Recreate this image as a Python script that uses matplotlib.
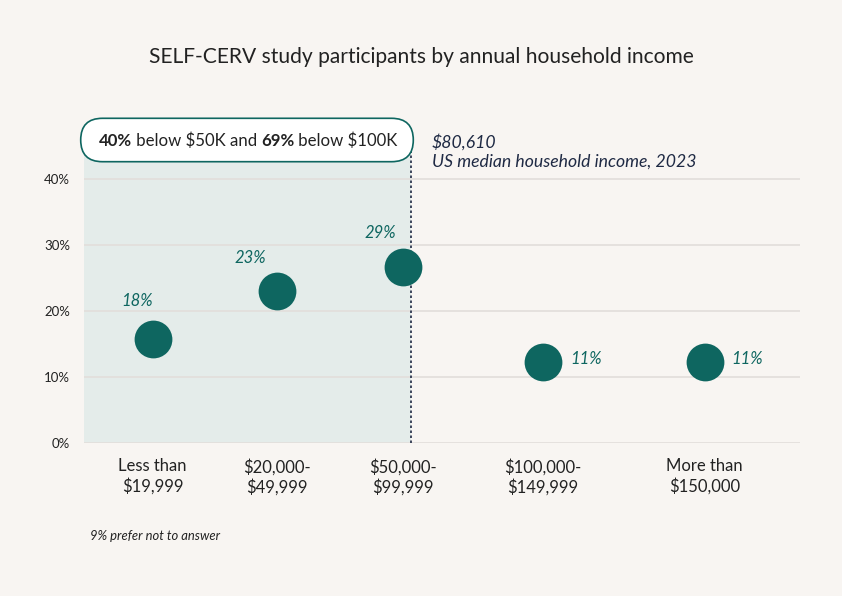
import matplotlib
matplotlib.use('Agg')
import matplotlib.pyplot as plt
from matplotlib.patches import FancyBboxPatch

plt.rcParams['font.family'] = ['Lato', 'DejaVu Sans']
plt.rcParams['text.parse_math'] = False

# data
categories = ['Less than\n$19,999', '$20,000-\n$49,999', '$50,000-\n$99,999',
              '$100,000-\n$149,999', 'More than\n$150,000']
dot_pct = [15.8, 23.1, 26.7, 12.2, 12.2]      # where the dots sit
pct_labels = ['18%', '23%', '29%', '11%', '11%']
y_ticks = [0, 10, 20, 30, 40]
median_income = '$80,610'

# layout
x_pos = [1.0, 2.0, 3.016, 4.145, 5.45]
median_x = 3.08
BG = '#f8f5f2'
SHADE = '#e4ecea'
GRID = '#e2dedb'
TEAL = '#0e6660'
DARK = '#222222'
NAVY = '#1f2a44'

W, H = 842, 596
fig = plt.figure(figsize=(W / 100, H / 100), dpi=100, facecolor=BG)

def fx(px):
    return px / W

def fy(py):
    return 1 - py / H

ax_l, ax_r, ax_b, ax_t = 84, 800, 443, 139.4
ax = fig.add_axes([fx(ax_l), fy(ax_b), fx(ax_r - ax_l), (ax_b - ax_t) / H])
ax.set_facecolor(BG)
ax.set_xlim(0.446, 6.22)
ax.set_ylim(0, 46)

ax.axvspan(0.446, median_x, color=SHADE, zorder=0, lw=0)
for t in y_ticks:
    ax.axhline(t, color=GRID, lw=1.2, zorder=1)
ax.axvline(median_x, ymin=0, ymax=1, color=NAVY, lw=1.2, ls=(0, (1.5, 1.5)), zorder=2)

ax.scatter(x_pos, dot_pct, s=740, color=TEAL, zorder=3, lw=0)

# percentage labels
offsets = [(-16, 38), (-26, 33), (-22, 34), (43, 3), (43, 3)]
for x, y, lab, (dx, dy) in zip(x_pos, dot_pct, pct_labels, offsets):
    ax.annotate(lab, (x, y), xytext=(dx, dy), textcoords='offset pixels',
                ha='center', va='center', fontsize=12, style='italic',
                color=TEAL, zorder=4)

ax.set_xticks(x_pos)
ax.set_xticklabels(categories, fontsize=12, color=DARK, linespacing=1.25)
ax.set_yticks(y_ticks)
ax.set_yticklabels([f'{t}%' for t in y_ticks], fontsize=9.5, color=DARK)
ax.tick_params(axis='both', length=0)
ax.tick_params(axis='x', pad=11)
ax.tick_params(axis='y', pad=10)
for lab in ax.get_yticklabels():
    lab.set_verticalalignment('center_baseline')
for s in ax.spines.values():
    s.set_visible(False)

# overlay in pixel units for the annotations
ov = fig.add_axes([0, 0, 1, 1], facecolor='none')
ov.set_xlim(0, W)
ov.set_ylim(H, 0)
ov.axis('off')

ov.text(421, 57, 'SELF-CERV study participants by annual household income',
        ha='center', va='center', fontsize=15.1, color=DARK)

pill = FancyBboxPatch((80.7, 118.3), 332.6, 43.4,
                      boxstyle='round,pad=0,rounding_size=21.7',
                      facecolor='white', edgecolor=TEAL, lw=1.2, zorder=5)
ov.add_patch(pill)

pieces = [('40%', 'bold'), (' below $50K and ', 'normal'),
          ('69%', 'bold'), (' below $100K', 'normal')]
renderer = fig.canvas.get_renderer()
texts = []
total = 0
for s, w in pieces:
    t = ov.text(0, 141, s, fontsize=12.1, fontweight=w, color=DARK,
                ha='left', va='center', zorder=6)
    ext = t.get_window_extent(renderer=renderer)
    texts.append((t, ext.width))
    total += ext.width
x0 = 248 - total / 2
for t, wd in texts:
    t.set_x(x0)
    x0 += wd

ov.text(432, 142, median_income, fontsize=12.7, style='italic', color=NAVY,
        ha='left', va='center')
ov.text(432, 162, 'US median household income, 2023', fontsize=12.7,
        style='italic', color=NAVY, ha='left', va='center')

ov.text(90, 536, '9% prefer not to answer', fontsize=9.4, style='italic',
        color=DARK, ha='left', va='center')

fig.savefig('out.png', dpi=100, facecolor=BG)
